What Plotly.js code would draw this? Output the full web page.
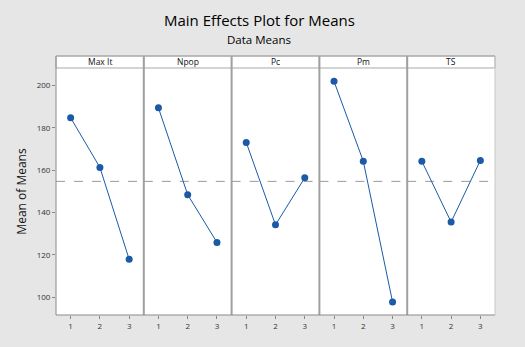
<!DOCTYPE html>
<html>
<head>
<meta charset="utf-8">
<script src="https://cdn.plot.ly/plotly-3.0.1.min.js"></script>
<style>html,body{margin:0;padding:0;background:#e6e6e6;}#chart{width:525px;height:347px;}</style>
</head>
<body>
<div id="chart"></div>
<script>
// Data
const factors = ["Max It", "Npop", "Pc", "Pm", "TS"];
const levels = [1, 2, 3];
const maxItMeans = [184.7, 161.3, 117.9];
const npopMeans = [189.4, 148.4, 125.9];
const pcMeans = [173.1, 134.2, 156.4];
const pmMeans = [201.9, 164.2, 97.8];
const tsMeans = [164.2, 135.5, 164.6];
const grandMean = 154.7;
const yTicks = [100, 120, 140, 160, 180, 200];

const seriesList = [maxItMeans, npopMeans, pcMeans, pmMeans, tsMeans];
const blue = "#1a5aa6";
const yDomTop = 0.9537;
const traces = [];
const layout = {
  width: 525, height: 347,
  paper_bgcolor: "#e6e6e6",
  plot_bgcolor: "#ffffff",
  margin: {l: 56, r: 30, t: 56, b: 32},
  showlegend: false,
  font: {family: "Open Sans, Noto Sans, sans-serif", color: "#333"},
  annotations: [
    {text: "Main Effects Plot for Means", xref: "paper", yref: "paper", x: 0.463, y: 1, yshift: 36, xanchor: "center", yanchor: "middle", showarrow: false, font: {size: 15, color: "#000"}},
    {text: "Data Means", xref: "paper", yref: "paper", x: 0.463, y: 1, yshift: 17, xanchor: "center", yanchor: "middle", showarrow: false, font: {size: 11.5, color: "#000"}}
  ],
  shapes: []
};
layout.yaxis = {
  domain: [0, yDomTop], range: [91.65, 208.2], tickvals: yTicks, ticktext: yTicks.map(String),
  ticks: "outside", ticklen: 3, tickcolor: "#888", tickfont: {size: 8, color: "#333"},
  showgrid: false, zeroline: false, showline: false,
  title: {text: "Mean of Means", font: {size: 12, color: "#111"}, standoff: 7}
};
const n = factors.length;
for (let i = 0; i < n; i++) {
  const ax = i === 0 ? "" : String(i + 1);
  const d0 = i / n, d1 = (i + 1) / n;
  layout["xaxis" + ax] = {
    domain: [d0, d1], range: [0.5, 3.5], tickvals: levels, ticktext: levels.map(String),
    ticks: "outside", ticklen: 3, tickcolor: "#888", tickfont: {size: 8, color: "#333"},
    showgrid: false, zeroline: false, showline: false, anchor: "y"
  };
  traces.push({
    x: levels, y: seriesList[i], xaxis: "x" + ax, yaxis: "y", type: "scatter", mode: "lines+markers",
    line: {color: blue, width: 1}, marker: {color: blue, size: 7, symbol: "circle"}, hoverinfo: "none"
  });
  // strip
  layout.shapes.push({type: "rect", xref: "paper", yref: "paper", x0: d0, x1: d1, y0: yDomTop, y1: 1,
    fillcolor: "#ffffff", line: {color: "#a8a8a8", width: 1}, layer: "below"});
  layout.annotations.push({text: factors[i], xref: "paper", yref: "paper", x: (d0 + d1) / 2, y: (yDomTop + 1) / 2,
    xanchor: "center", yanchor: "middle", showarrow: false, font: {size: 8.5, color: "#111"}});
  // grand mean dashed line
  layout.shapes.push({type: "line", xref: "x" + ax, yref: "y", x0: 0.5, x1: 3.5, y0: grandMean, y1: grandMean,
    line: {color: "#9a9a9a", width: 1, dash: "dash"}, layer: "below"});
}
// panel dividers
for (let i = 1; i < n; i++) {
  layout.shapes.push({type: "line", xref: "paper", yref: "paper", x0: i / n, x1: i / n, y0: 0, y1: 1,
    line: {color: "#a0a0a0", width: 2}});
}
// outer frame
layout.shapes.push({type: "line", xref: "paper", yref: "paper", x0: 0, x1: 0, y0: 0, y1: 1, line: {color: "#8a8a8a", width: 1}});
layout.shapes.push({type: "line", xref: "paper", yref: "paper", x0: 0, x1: 1, y0: 0, y1: 0, line: {color: "#8a8a8a", width: 1}});
layout.shapes.push({type: "line", xref: "paper", yref: "paper", x0: 1, x1: 1, y0: 0, y1: 1, line: {color: "#c8c8c8", width: 1}});
layout.shapes.push({type: "line", xref: "paper", yref: "paper", x0: 0, x1: 1, y0: 1, y1: 1, line: {color: "#a8a8a8", width: 1}});

Plotly.newPlot("chart", traces, layout, {staticPlot: true, displayModeBar: false});
</script>
</body>
</html>
